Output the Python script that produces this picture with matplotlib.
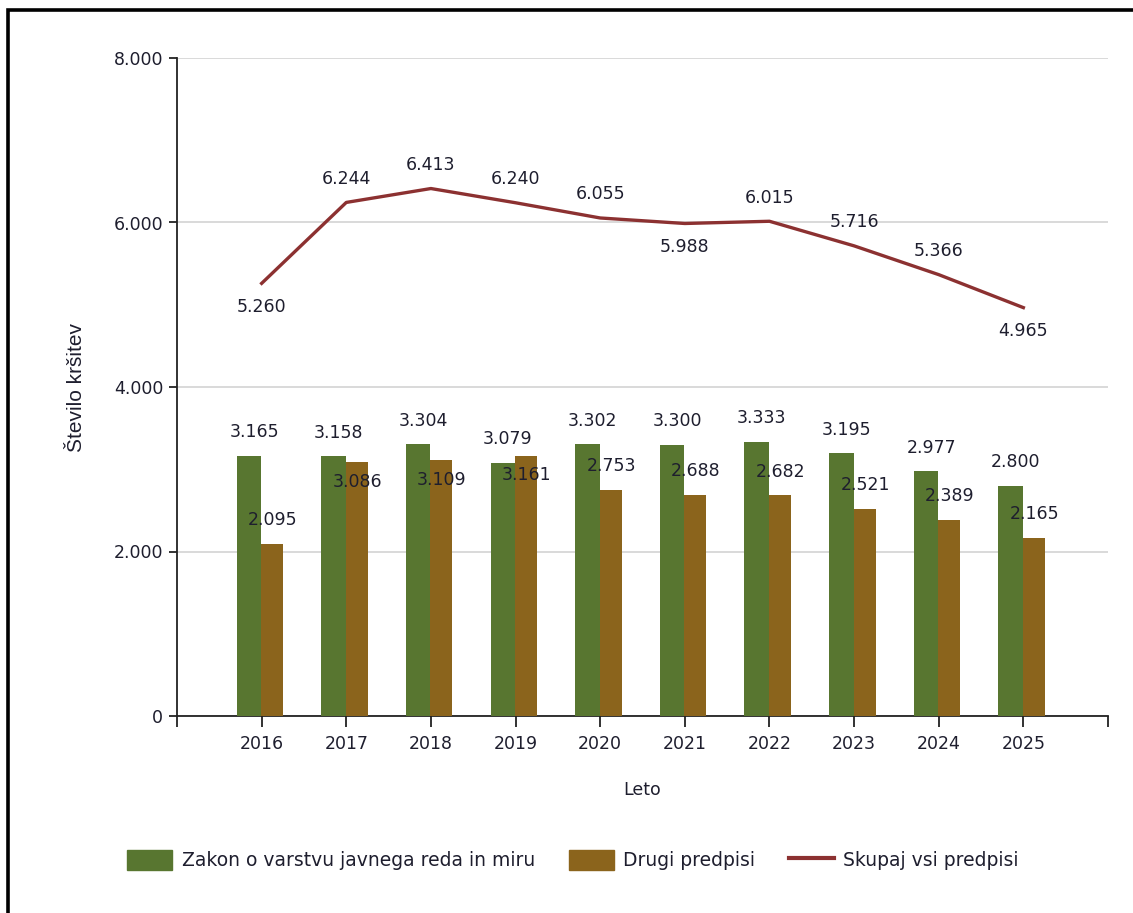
import numpy as np
import matplotlib
matplotlib.use("Agg")
import matplotlib.pyplot as plt
from matplotlib.patches import Rectangle
from matplotlib.lines import Line2D
from matplotlib.ticker import FuncFormatter

years = ["2016", "2017", "2018", "2019", "2020", "2021", "2022", "2023", "2024", "2025"]
zakon = [3165, 3158, 3304, 3079, 3302, 3300, 3333, 3195, 2977, 2800]
drugi = [2095, 3086, 3109, 3161, 2753, 2688, 2682, 2521, 2389, 2165]
skupaj = [5260, 6244, 6413, 6240, 6055, 5988, 6015, 5716, 5366, 4965]
# which labels sit under their mark
skupaj_below = [True, False, False, False, False, True, False, False, False, True]
drugi_below = [False, True, True, True, False, False, False, False, False, False]

GREEN = "#587630"
BROWN = "#8b641c"
RED = "#8c3131"
TXT = "#1e1e2e"


def fmt(v):
    return f"{v:,.0f}".replace(",", ".")


fig = plt.figure(figsize=(11.33, 9.13), dpi=100)
plt.rcParams["font.family"] = ["DejaVu Sans"]

# outer frame (cut off at right/bottom like the reference)
fig.patches.append(Rectangle((7.5 / 1133, -0.05), 1.2, (902.5 / 913) + 0.05,
                             transform=fig.transFigure, fill=False,
                             edgecolor="black", linewidth=2.6))

ax = fig.add_axes([177 / 1133, 197 / 913, (1108 - 177) / 1133, (716 - 58) / 913])

x = np.arange(len(years))
w = 0.29
ax.bar(x - w / 2 - 0.005, zakon, width=w, color=GREEN, zorder=3)
ax.bar(x + w / 2 - 0.02, drugi, width=w - 0.03, color=BROWN, zorder=3)
ax.plot(x, skupaj, color=RED, linewidth=2.4, zorder=4)

fs = 12.5
for i in range(len(years)):
    ax.annotate(fmt(zakon[i]), (x[i] - 0.09, zakon[i]), xytext=(0, 17),
                textcoords="offset points", ha="center", va="center",
                fontsize=fs, color=TXT, zorder=5)
    dy = -14 if drugi_below[i] else 17
    ax.annotate(fmt(drugi[i]), (x[i] + 0.13, drugi[i]), xytext=(0, dy),
                textcoords="offset points", ha="center", va="center",
                fontsize=fs, color=TXT, zorder=5)
    dy = -17 if skupaj_below[i] else 17
    ax.annotate(fmt(skupaj[i]), (x[i], skupaj[i]), xytext=(0, dy),
                textcoords="offset points", ha="center", va="center",
                fontsize=fs, color=TXT, zorder=5)

ax.set_xlim(-1, 10)
ax.set_ylim(0, 8000)
ax.set_yticks([0, 2000, 4000, 6000, 8000])
ax.yaxis.set_major_formatter(FuncFormatter(lambda v, p: fmt(v)))
ax.set_xticks(x)
ax.set_xticklabels(years)
ax.set_xticks([-1, 10], minor=True)
ax.tick_params(axis="x", which="both", length=8, width=1.3, color="#222222",
               labelsize=fs, labelcolor=TXT, pad=6)
ax.tick_params(axis="y", length=6, width=1.3, color="#222222",
               labelsize=fs, labelcolor=TXT, pad=4)
ax.grid(axis="y", color="#d9d9d9", linewidth=1.4, zorder=0)
ax.set_axisbelow(True)
for s in ["top", "right"]:
    ax.spines[s].set_visible(False)
for s in ["left", "bottom"]:
    ax.spines[s].set_linewidth(1.3)
    ax.spines[s].set_color("#222222")

ax.set_xlabel("Leto", fontsize=fs, color=TXT, labelpad=20)
ax.set_ylabel("Število kršitev", fontsize=15, color=TXT,
              family=["Liberation Sans", "DejaVu Sans"], labelpad=20)

handles = [Rectangle((0, 0), 1, 1, color=GREEN),
           Rectangle((0, 0), 1, 1, color=BROWN),
           Line2D([0], [0], color=RED, linewidth=3)]
labels = ["Zakon o varstvu javnega reda in miru", "Drugi predpisi", "Skupaj vsi predpisi"]
fig.legend(handles, labels, loc="center", bbox_to_anchor=(573 / 1133, 1 - 860 / 913),
           ncol=3, frameon=False, fontsize=13.5, handlelength=2.4, handleheight=1.3,
           handletextpad=0.5, columnspacing=1.8, labelcolor=TXT)

fig.savefig("out.png", dpi=100)
